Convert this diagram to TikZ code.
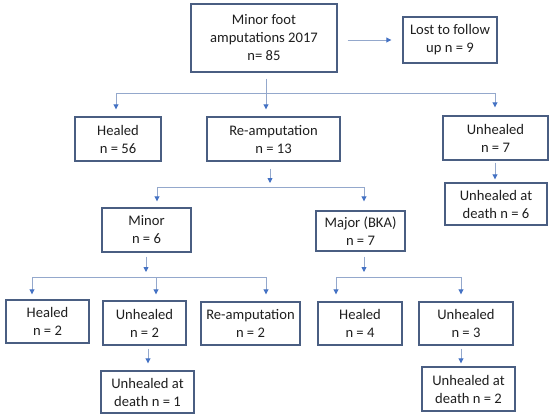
\documentclass[tikz,border=0pt]{standalone}
\usepackage{fontspec}
\setmainfont{Carlito}
\usetikzlibrary{arrows.meta}
\definecolor{boxcol}{HTML}{4A5E82}
\definecolor{linecol}{HTML}{94A8CC}
\definecolor{tipcol}{HTML}{4472C4}
\begin{document}
\begin{tikzpicture}[x=1pt,y=-1pt,
  box/.style={draw=boxcol, line width=1.4pt, inner sep=0pt, align=center,
    font=\fontsize{14.6}{18}\selectfont, text=black!88},
  conn/.style={draw=linecol, line width=0.9pt},
  arr/.style={-{Triangle[length=5pt,width=5pt,color=tipcol]}}
]
\useasboundingbox[fill=white] (0,0) rectangle (550,418);

% nodes
\node[box, minimum width=146pt, minimum height=68pt] (top) at (264,38) {Minor foot\\amputations 2017\\n= 85};
\node[box, minimum width=94pt, minimum height=46pt] (lost) at (450,40) {Lost to follow\\up n = 9};
\node[box, minimum width=86pt, minimum height=44pt] (healedA) at (118,139) {Healed\\n = 56};
\node[box, minimum width=133pt, minimum height=44pt] (reampA) at (273.5,139) {Re-amputation\\n = 13};
\node[box, minimum width=105pt, minimum height=44pt] (unhealA) at (495.5,138) {Unhealed\\n = 7};
\node[box, minimum width=102pt, minimum height=42pt] (deathA) at (496,204) {Unhealed at\\death n = 6};
\node[box, minimum width=89pt, minimum height=44pt] (minor) at (146.5,230) {Minor\\n = 6};
\node[box, minimum width=89pt, minimum height=40pt] (major) at (360.5,231) {Major (BKA)\\n = 7};
\node[box, minimum width=83pt, minimum height=43pt] (healedB) at (47.5,321.5) {Healed\\n = 2};
\node[box, minimum width=83pt, minimum height=44pt] (unhealB) at (144.5,323) {Unhealed\\n = 2};
\node[box, minimum width=99pt, minimum height=43pt] (reampB) at (250.5,323.5) {Re-amputation\\n = 2};
\node[box, minimum width=84pt, minimum height=43pt] (healedC) at (360,323.5) {Healed\\n = 4};
\node[box, minimum width=94pt, minimum height=43pt] (unhealC) at (466,323.5) {Unhealed\\n = 3};
\node[box, minimum width=93pt, minimum height=42pt] (deathB) at (147.5,392) {Unhealed at\\death n = 1};
\node[box, minimum width=93pt, minimum height=44pt] (deathC) at (468.5,389) {Unhealed at\\death n = 2};

% junction coordinates
\coordinate (t1) at (266,93);
\coordinate (hL) at (116,93);
\coordinate (hR) at (495,93);
\coordinate (r1) at (270,187);
\coordinate (rL) at (157,187);
\coordinate (rR) at (364,187);
\coordinate (m1) at (146,277);
\coordinate (mL) at (32,277);
\coordinate (mM) at (156,277);
\coordinate (mR) at (266,277);
\coordinate (k1) at (364,277);
\coordinate (kL) at (336,277);
\coordinate (kR) at (461,277);
\coordinate (u1) at (495,170);
\coordinate (u2) at (148,360);
\coordinate (u3) at (461,360);

% top level
\draw[conn, arr, shorten <=10pt, shorten >=11pt] (top.east |- lost) -- (lost.west);
\draw[conn, arr, shorten <=6pt, shorten >=7pt] (top.south -| t1) -- (reampA.north -| t1);
\draw[conn] (hL) -- (hR);
\draw[conn, arr, shorten >=7pt] (hL) -- (hL |- healedA.north);
\draw[conn, arr, shorten >=8pt] (hR) -- (hR |- unhealA.north);
\draw[conn, arr, shorten <=2pt, shorten >=3pt] (unhealA.south -| u1) -- (deathA.north -| u1);

% re-amputation split
\draw[conn, arr, shorten <=7pt, shorten >=4pt] (reampA.south -| r1) -- (r1);
\draw[conn] (rL) -- (rR);
\draw[conn, arr, shorten >=6pt] (rL) -- (rL |- minor.north);
\draw[conn, arr, shorten >=9pt] (rR) -- (rR |- major.north);

% minor split
\draw[conn, arr, shorten <=4pt, shorten >=5pt] (minor.south -| m1) -- (m1);
\draw[conn] (mL) -- (mR);
\draw[conn, arr, shorten >=5pt] (mL) -- (mL |- healedB.north);
\draw[conn, arr, shorten >=6pt] (mM) -- (mM |- unhealB.north);
\draw[conn, arr, shorten >=7pt] (mR) -- (mR |- reampB.north);
\draw[conn, arr, shorten <=3pt, shorten >=7pt] (unhealB.south -| u2) -- (deathB.north -| u2);

% major split
\draw[conn, arr, shorten <=5pt, shorten >=5pt] (major.south -| k1) -- (k1);
\draw[conn] (kL) -- (kR);
\draw[conn, arr, shorten >=7pt] (kL) -- (kL |- healedC.north);
\draw[conn, arr, shorten >=7pt] (kR) -- (kR |- unhealC.north);
\draw[conn, arr, shorten <=3pt, shorten >=3pt] (unhealC.south -| u3) -- (deathC.north -| u3);
\end{tikzpicture}
\end{document}
